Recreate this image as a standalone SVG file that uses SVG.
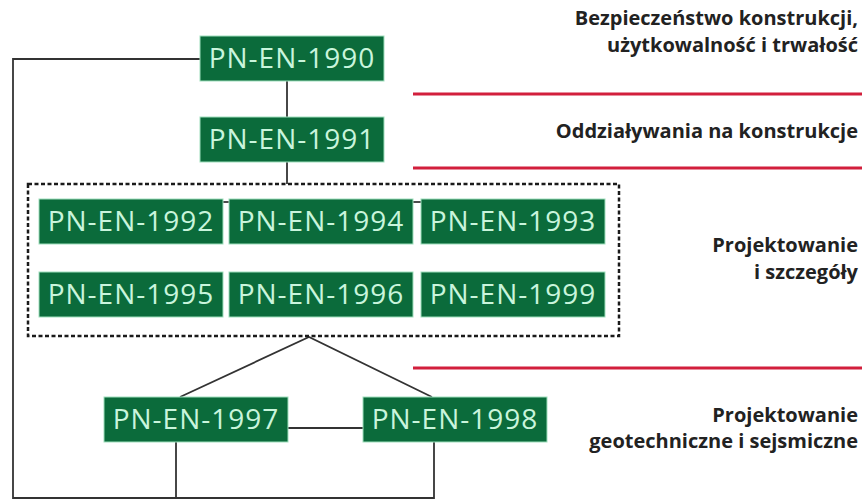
<svg xmlns="http://www.w3.org/2000/svg" width="862" height="500" viewBox="0 0 862 500">
<style>
.box{fill:#0b6b3b;stroke:#9fe0bd;stroke-width:1}
.bt{font-family:"Open Sans","Liberation Sans",sans-serif;font-size:28px;fill:#c9f5dc;text-anchor:middle;letter-spacing:1px}
.lbl{font-family:"Open Sans","Liberation Sans",sans-serif;font-size:20px;font-weight:700;fill:#222;text-anchor:end}
.con{stroke:#333;stroke-width:1.8;fill:none}
.red{stroke:#d21f3c;stroke-width:3;fill:none}
.dash{stroke:#1a1a1a;stroke-width:2.5;stroke-dasharray:4 2.5;fill:none}
.arr{stroke:#111;stroke-width:1.5;fill:none;marker-start:url(#ah);marker-end:url(#ah)}
</style>
<defs>
<marker id="ah" viewBox="0 0 6 6" refX="3" refY="3" markerWidth="7" markerHeight="7" orient="auto-start-reverse" markerUnits="userSpaceOnUse">
<path d="M0,0 L6,3 L0,6 Z" fill="#111"/>
</marker>
</defs>
<rect width="862" height="500" fill="#fff"/>
<g id="separators">
<line class="red" x1="413" y1="94" x2="862" y2="94"/>
<line class="red" x1="413" y1="168" x2="862" y2="168"/>
<line class="red" x1="413" y1="368" x2="862" y2="368"/>
</g>
<g id="labels">
<text class="lbl" x="858" y="25">Bezpieczeństwo konstrukcji,</text>
<text class="lbl" x="858" y="52">użytkowalność i trwałość</text>
<text class="lbl" x="858" y="138">Oddziaływania na konstrukcje</text>
<text class="lbl" x="858" y="252">Projektowanie</text>
<text class="lbl" x="858" y="279">i szczegóły</text>
<text class="lbl" x="858" y="422">Projektowanie</text>
<text class="lbl" x="858" y="448">geotechniczne i sejsmiczne</text>
</g>
<g id="connectors">
<polyline class="con" points="200,59 13,59 13,498 434,498 434,442"/>
<line class="con" x1="176" y1="442" x2="176" y2="498"/>
<line class="con" x1="287" y1="81" x2="287" y2="117"/>
<line class="con" x1="287" y1="162" x2="287" y2="184"/>
<polyline class="con" points="180,397 309,337 432,397"/>
<line class="con" x1="288" y1="428" x2="363" y2="428"/>
<line class="arr" x1="208" y1="202" x2="246" y2="202"/>
<line class="arr" x1="401" y1="202" x2="434" y2="202"/>
</g>
<g id="group-design">
<rect class="dash" x="28" y="184" width="591" height="152"/>
</g>
<g id="n1990"><rect class="box" x="200" y="36" width="184" height="45"/><text class="bt" x="292" y="68">PN-EN-1990</text></g>
<g id="n1991"><rect class="box" x="200" y="117" width="184" height="45"/><text class="bt" x="292" y="149">PN-EN-1991</text></g>
<g id="n1992"><rect class="box" x="39" y="199" width="184" height="45"/><text class="bt" x="131" y="231">PN-EN-1992</text></g>
<g id="n1994"><rect class="box" x="229" y="199" width="184" height="45"/><text class="bt" x="321" y="231">PN-EN-1994</text></g>
<g id="n1993"><rect class="box" x="421" y="199" width="184" height="45"/><text class="bt" x="513" y="231">PN-EN-1993</text></g>
<g id="n1995"><rect class="box" x="39" y="272" width="184" height="45"/><text class="bt" x="131" y="304">PN-EN-1995</text></g>
<g id="n1996"><rect class="box" x="229" y="272" width="184" height="45"/><text class="bt" x="321" y="304">PN-EN-1996</text></g>
<g id="n1999"><rect class="box" x="421" y="272" width="184" height="45"/><text class="bt" x="513" y="304">PN-EN-1999</text></g>
<g id="n1997"><rect class="box" x="104" y="397" width="184" height="45"/><text class="bt" x="196" y="429">PN-EN-1997</text></g>
<g id="n1998"><rect class="box" x="363" y="397" width="184" height="45"/><text class="bt" x="455" y="429">PN-EN-1998</text></g>
</svg>
